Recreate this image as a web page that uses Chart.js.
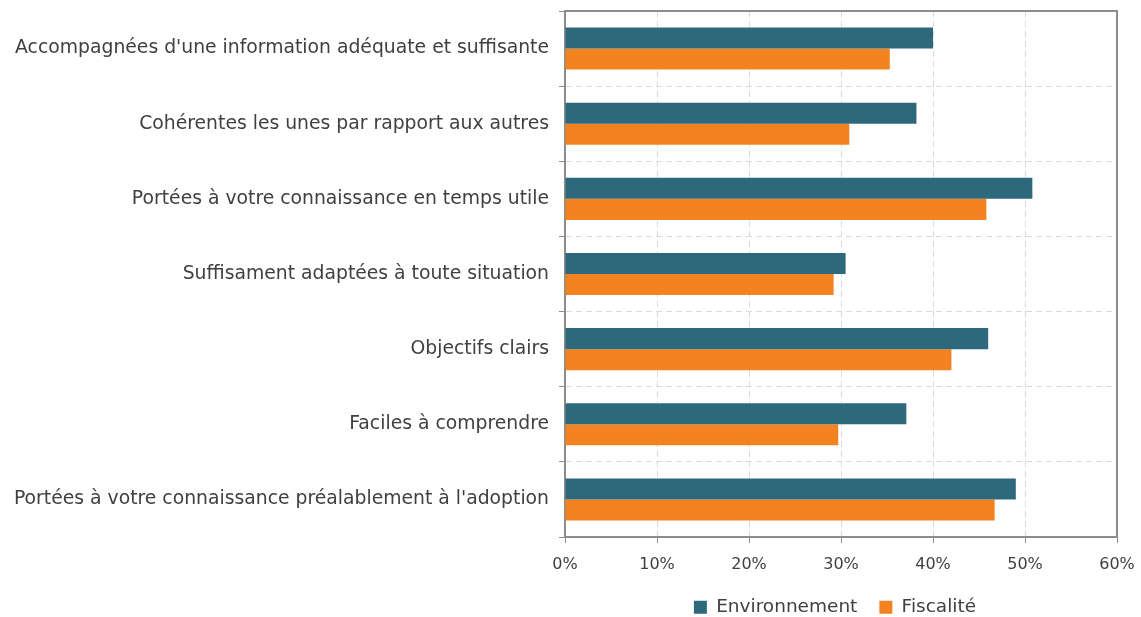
<!DOCTYPE html>
<html>
<head>
<meta charset="utf-8">
<script src="https://cdn.jsdelivr.net/npm/chart.js@4.4.1/dist/chart.umd.min.js"></script>
<style>
  html, body { margin: 0; padding: 0; background: #ffffff; }
  #wrap { width: 1141px; height: 617px; }
</style>
</head>
<body>
<div id="wrap"><canvas id="barChart" width="1141" height="617"></canvas></div>
<script>
// Catégories (de haut en bas)
const categories = [
  "Accompagnées d'une information adéquate et suffisante",
  'Cohérentes les unes par rapport aux autres',
  'Portées à votre connaissance en temps utile',
  'Suffisament adaptées à toute situation',
  'Objectifs clairs',
  'Faciles à comprendre',
  "Portées à votre connaissance préalablement à l'adoption"
];

// Valeurs en %
const environnement = [40.0, 38.2, 50.8, 30.5, 46.0, 37.1, 49.0];
const fiscalite = [35.3, 30.9, 45.8, 29.2, 42.0, 29.7, 46.7];

const seriesNames = ['Environnement', 'Fiscalité'];
const xTicks = [0, 10, 20, 30, 40, 50, 60];

const textColor = '#404040';
const axisColor = '#8c8c8c';
const gridColor = '#d9d9d9';
const fontFamily = "'DejaVu Sans', sans-serif";
const legendPad = 22;

// Cadre gris autour de la zone de tracé (haut et droite)
const frameBox = {
  id: 'frameBox',
  afterDraw(chart) {
    const { ctx, chartArea: a } = chart;
    ctx.save();
    ctx.strokeStyle = axisColor;
    ctx.lineWidth = 2;
    ctx.beginPath();
    ctx.moveTo(a.left, a.top);
    ctx.lineTo(a.right, a.top);
    ctx.lineTo(a.right, a.bottom);
    ctx.stroke();
    ctx.restore();
  }
};

// Légende centrée sous la zone de tracé, et zone des libellés de l'axe x agrandie
const legendUnderPlot = {
  id: 'legendUnderPlot',
  afterLayout(chart) {
    const lg = chart.legend;
    const xs = chart.scales.x;
    if (xs) xs.bottom = xs.top + 45;
    if (!lg) return;
    lg.left = chart.chartArea.left - 12;
    lg.right = chart.chartArea.right;
    lg.width = lg.right - lg.left;
    lg.top = 598 - legendPad;
    lg.bottom = lg.top + lg.height;
    if (lg.adjustHitBoxes) lg.adjustHitBoxes();
  }
};

const ctx = document.getElementById('barChart').getContext('2d');
new Chart(ctx, {
  type: 'bar',
  data: {
    labels: categories,
    datasets: [
      {
        label: seriesNames[0],
        data: environnement,
        backgroundColor: '#2e687d',
        borderWidth: 0,
        barPercentage: 1.0,
        categoryPercentage: 0.56
      },
      {
        label: seriesNames[1],
        data: fiscalite,
        backgroundColor: '#f38321',
        borderWidth: 0,
        barPercentage: 1.0,
        categoryPercentage: 0.56
      }
    ]
  },
  options: {
    indexAxis: 'y',
    responsive: false,
    animation: false,
    layout: { padding: { top: 11, right: 24, bottom: 0, left: 0 } },
    plugins: {
      legend: {
        position: 'bottom',
        labels: {
          color: textColor,
          font: { family: fontFamily, size: 18.5 },
          boxWidth: 13,
          boxHeight: 13,
          padding: legendPad
        }
      },
      tooltip: { enabled: false }
    },
    scales: {
      x: {
        min: 0,
        max: 60,
        afterBuildTicks: (scale) => {
          scale.ticks = xTicks.map(v => ({ value: v }));
        },
        afterFit: (scale) => {
          const lg = scale.chart.legend;
          scale.height = 80 - (lg ? lg.height : 35);
          scale.paddingLeft = 0;
          scale.paddingRight = 0;
        },
        ticks: {
          color: textColor,
          font: { family: fontFamily, size: 16 },
          padding: 12,
          callback: (v) => v + '%'
        },
        grid: {
          color: gridColor,
          tickColor: axisColor,
          tickLength: 6,
          tickBorderDash: [],
          lineWidth: 1
        },
        border: { color: axisColor, width: 2, dash: [6, 4] }
      },
      y: {
        afterFit: (scale) => {
          scale.width = 565;
          scale.paddingTop = 0;
          scale.paddingBottom = 0;
        },
        ticks: {
          color: textColor,
          font: { family: fontFamily, size: 18.8 },
          padding: 10
        },
        grid: {
          offset: true,
          color: gridColor,
          tickColor: axisColor,
          tickLength: 6,
          tickBorderDash: []
        },
        border: { color: axisColor, width: 2, dash: [6, 4] }
      }
    }
  },
  plugins: [frameBox, legendUnderPlot]
});
</script>
</body>
</html>
